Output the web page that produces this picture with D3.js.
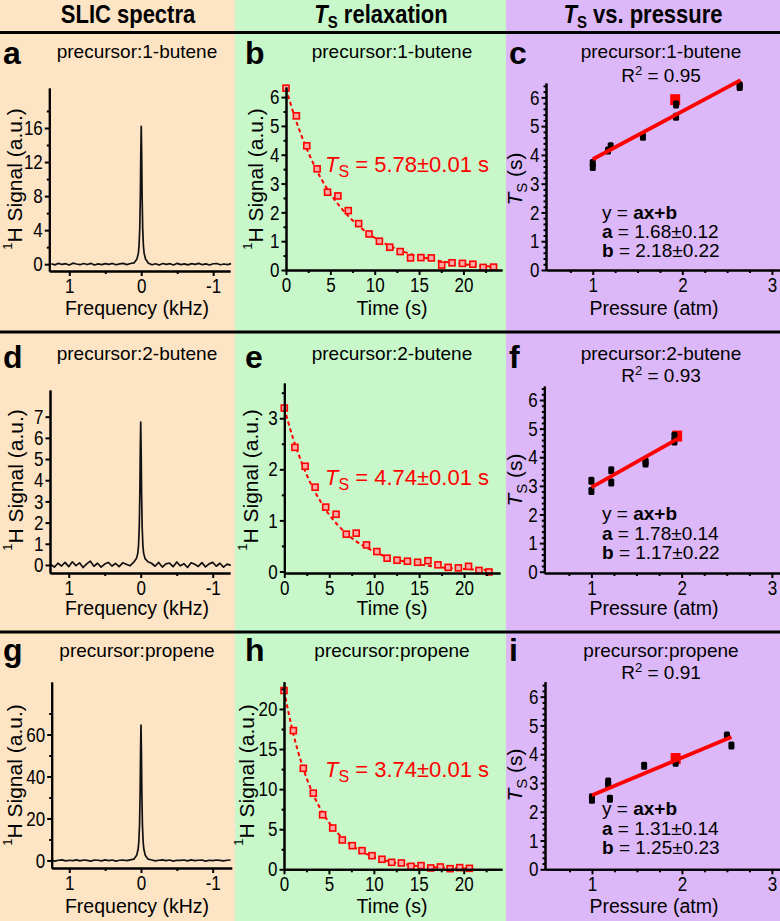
<!DOCTYPE html>
<html>
<head>
<meta charset="utf-8">
<script src="https://cdn.jsdelivr.net/npm/d3@7"></script>
<style>
  body { margin: 0; background: #fff; }
  svg text { font-family: "Liberation Sans", Arial, Helvetica, sans-serif; fill: #000; }
</style>
</head>
<body>
<svg id="fig" width="780" height="921"></svg>
<script>
// ---------- data ----------
const headers = ['SLIC spectra', 'relaxation', 'vs. pressure'];
const precursors = ['precursor:1-butene', 'precursor:2-butene', 'precursor:propene'];
const letters = ['a', 'b', 'c', 'd', 'e', 'f', 'g', 'h', 'i'];

// SLIC spectra (kHz, a.u.)
const specFreq = [1.25,1.2,1.15,1.1,1.05,1,0.95,0.9,0.85,0.8,0.75,0.7,0.65,0.6,0.55,0.5,0.45,0.4,0.35,0.3,0.25,0.2,0.15,0.1,
  0.06,0.04,0.03,0.02,0.012,0.006,0,-0.006,-0.012,-0.02,-0.03,-0.04,-0.06,
  -0.1,-0.15,-0.2,-0.25,-0.3,-0.35,-0.4,-0.45,-0.5,-0.55,-0.6,-0.65,-0.7,-0.75,-0.8,-0.85,-0.9,-0.95,-1,-1.05,-1.1,-1.15,-1.2,-1.25];
const specA = [0.05,-0.08,0.1,-0.03,0.06,-0.1,0.12,0.02,-0.06,0.08,-0.04,0.1,-0.09,0.03,-0.05,0.07,-0.02,0.09,-0.07,0.04,0.1,-0.05,0.08,0.15,
  0.6,1.3,2.2,4.3,8.1,13.0,16.2,13.0,8.1,4.3,2.2,1.3,0.6,
  0.12,-0.06,0.05,-0.1,0.08,-0.03,0.06,-0.09,0.1,-0.05,0.03,-0.08,0.07,-0.02,0.09,-0.06,0.04,-0.1,0.05,0.08,-0.07,0.02,-0.05,0.06];
const specD = [0.02,-0.1,0.08,-0.05,0.12,-0.08,0.15,-0.03,0.1,-0.12,0.05,0.18,-0.06,0.08,-0.1,0.04,0.12,-0.05,0.07,-0.08,0.1,0.03,-0.04,0.12,
  0.3,0.56,0.93,1.8,3.4,5.4,6.75,5.4,3.4,1.8,0.93,0.56,0.3,
  0.15,0.08,-0.06,0.12,-0.1,0.05,0.09,-0.08,0.14,-0.04,0.06,-0.12,0.1,0.03,-0.07,0.11,-0.09,0.05,0.12,-0.06,0.08,-0.1,0.04,-0.02];
const specG = [0.2,-0.3,0.1,0.3,-0.2,0.1,-0.1,0.3,-0.2,0.2,0,-0.3,0.2,0.1,-0.2,0.3,-0.1,0.2,-0.3,0.1,0.2,-0.1,0.3,0.6,
  2.5,5.3,8.9,17,32,51.6,64.5,51.6,32,17,8.9,5.3,2.5,
  0.6,0.2,-0.2,0.1,0.3,-0.1,0.2,-0.3,0.1,0,0.2,-0.2,0.3,-0.1,0.1,0.2,-0.3,0.1,-0.1,0.2,0,-0.2,0.1,0.2];

// Ts relaxation (s, a.u.)
const timeB = [0,1.17,2.34,3.51,4.68,5.85,7.02,8.19,9.36,10.53,11.7,12.87,14.04,15.21,16.38,17.55,18.72,19.89,21.06,22.23,23.4];
const sigB = [6.31,5.35,4.31,3.51,2.7,2.57,2.06,1.61,1.25,1.0,0.79,0.64,0.42,0.43,0.42,0.17,0.25,0.23,0.2,0.09,0.1];
const fitTimeB = [0,1,2,3,4,5,6,7,8,9,10,11,12,13,14,15,16,17,18,19,20,21,22,23];
const fitB = [6.3,5.3,4.46,3.75,3.15,2.65,2.23,1.88,1.58,1.33,1.12,0.94,0.79,0.66,0.56,0.47,0.4,0.33,0.28,0.24,0.2,0.17,0.14,0.12];

const timeE = [0,1.18,2.32,3.43,4.61,5.76,6.9,8.0,9.15,10.3,11.44,12.55,13.7,14.83,15.98,17.1,18.23,19.37,20.5,21.66,22.77];
const sigE = [3.2,2.43,2.06,1.65,1.26,1.12,0.73,0.75,0.52,0.39,0.26,0.22,0.2,0.18,0.21,0.13,0.08,0.07,0.1,0.02,-0.01];
const fitTimeE = [0,1,2,3,4,5,6,7,8,9,10,11,12,13,14,15,16,17,18,19,20,21,22,23];
const fitE = [3.2,2.59,2.1,1.7,1.38,1.11,0.9,0.73,0.59,0.48,0.39,0.31,0.25,0.21,0.17,0.14,0.11,0.09,0.07,0.06,0.05,0.04,0.03,0.03];

const timeH = [0,1.04,2.15,3.26,4.3,5.42,6.49,7.6,8.68,9.79,10.9,11.98,13.06,14.14,15.25,16.33,17.4,18.48,19.55,20.63];
const sigH = [22.3,17.3,12.6,9.5,6.8,5.15,3.66,2.95,2.33,1.7,1.25,0.87,0.79,0.37,0.46,0.17,0.29,0.08,0.21,0.12];
const fitTimeH = [0,1,2,3,4,5,6,7,8,9,10,11,12,13,14,15,16,17,18,19,20,21];
const fitH = [22.3,17.07,13.06,10.0,7.65,5.86,4.48,3.43,2.63,2.01,1.54,1.18,0.9,0.69,0.53,0.4,0.31,0.24,0.18,0.14,0.11,0.08];
const tsLabels = ['5.78±0.01 s', '4.74±0.01 s', '3.74±0.01 s'];

// Ts vs pressure (atm, s)
const pressC = [1,1,1.17,1.2,1.56,1.93,1.93,2.64,2.64];
const tsC = [3.58,3.72,4.15,4.3,4.63,5.33,5.75,6.36,6.42];
const redC = [1.92, 5.92];
const fitXC = [1.0, 2.65], fitYC = [3.85, 6.6];

const pressF = [1,1,1.22,1.22,1.6,1.6,1.92,1.92];
const tsF = [3.18,2.82,3.55,3.12,3.85,3.78,4.75,4.55];
const redF = [1.95, 4.74];
const fitXF = [1.0, 1.96], fitYF = [2.95, 4.65];

const pressI = [1,1,1.18,1.18,1.2,1.58,1.93,2.5,2.55];
const tsI = [2.5,2.42,3.05,2.95,2.45,3.6,3.7,4.65,4.3];
const redI = [1.93, 3.85];
const fitXI = [1.0, 2.55], fitYI = [2.57, 4.6];

const r2Labels = ['0.95', '0.93', '0.91'];
const slopeLabels = ['1.68±0.12', '1.78±0.14', '1.31±0.14'];
const interLabels = ['2.18±0.22', '1.17±0.22', '1.25±0.23'];

// tick values
const freqMajor = [1, 0, -1], freqMinor = [0.5, -0.5];
const timeMajor = [0, 5, 10, 15, 20], timeMinor = [2.5, 7.5, 12.5, 17.5, 22.5];
const pressMajor = [1, 2, 3], pressMinor = [0.75, 1.25, 1.5, 1.75, 2.25, 2.5, 2.75];
const tsMajor = [0, 1, 2, 3, 4, 5, 6];

// ---------- drawing ----------
const svg = d3.select('#fig');
const RED = '#ff0000';
const TICK_STRETCH = 1.22;   // tick numbers are tall and narrow in the figure

svg.append('rect').attr('x', 0).attr('y', 0).attr('width', 235).attr('height', 921).attr('fill', '#fde4c4');
svg.append('rect').attr('x', 235).attr('y', 0).attr('width', 271).attr('height', 921).attr('fill', '#c8f8ca');
svg.append('rect').attr('x', 506).attr('y', 0).attr('width', 274).attr('height', 921).attr('fill', '#dcb8f9');

[32.5, 332, 632].forEach(y => {
  svg.append('line').attr('x1', 0).attr('x2', 780).attr('y1', y).attr('y2', y)
    .attr('stroke', '#000').attr('stroke-width', 3);
});

function stretchY(sel, k) {
  sel.each(function () {
    const y = +this.getAttribute('y') || 0;
    d3.select(this).attr('transform', `translate(0,${y * (1 - k)}) scale(1,${k})`);
  });
}

function drawAxes(g, xs, ys, xMajor, xMinor, yMajor, yMinor) {
  const bottom = ys.range()[0];
  const left = xs.range()[0];
  const fmt = d => String(d);
  g.append('g').attr('class', 'ax').attr('transform', `translate(0,${bottom})`)
    .call(d3.axisBottom(xs).tickValues(xMinor).tickSize(3).tickSizeOuter(0).tickFormat(''));
  g.append('g').attr('class', 'ax').attr('transform', `translate(0,${bottom})`)
    .call(d3.axisBottom(xs).tickValues(xMajor).tickSize(5).tickSizeOuter(0).tickPadding(2).tickFormat(fmt));
  g.append('g').attr('class', 'ax').attr('transform', `translate(${left},0)`)
    .call(d3.axisLeft(ys).tickValues(yMinor).tickSize(2.5).tickSizeOuter(0).tickFormat(''));
  g.append('g').attr('class', 'ax').attr('transform', `translate(${left},0)`)
    .call(d3.axisLeft(ys).tickValues(yMajor).tickSize(4.5).tickSizeOuter(0).tickPadding(2).tickFormat(fmt));
  g.selectAll('.ax').attr('font-size', 17).attr('font-family', null);
  g.selectAll('.ax path, .ax line').attr('stroke', '#000').attr('stroke-width', 2);
  stretchY(g.selectAll('.ax text').attr('fill', '#000'), TICK_STRETCH);
}

function spectrum(box, sig, yDom, yMajor, yMinor, xDom) {
  const g = svg.append('g');
  const xs = d3.scaleLinear().domain(xDom).range([box.x0, box.x1]);
  const ys = d3.scaleLinear().domain(yDom).range([box.y1, box.y0]);
  const line = d3.line().x((d, i) => xs(specFreq[i])).y(d => ys(d));
  g.append('path').datum(sig).attr('d', line).attr('fill', 'none')
    .attr('stroke', '#111').attr('stroke-width', 1.7).attr('stroke-linejoin', 'round');
  drawAxes(g, xs, ys, freqMajor, freqMinor, yMajor, yMinor);
}

function relax(box, t, v, ft, fv, xDom, yDom, yMajor, yMinor) {
  const g = svg.append('g');
  const xs = d3.scaleLinear().domain(xDom).range([box.x0, box.x1]);
  const ys = d3.scaleLinear().domain(yDom).range([box.y1, box.y0]);
  const line = d3.line().curve(d3.curveMonotoneX).x((d, i) => xs(ft[i])).y(d => ys(d));
  g.append('path').datum(fv).attr('d', line).attr('fill', 'none')
    .attr('stroke', RED).attr('stroke-width', 2).attr('stroke-dasharray', '4,3');
  g.selectAll('rect.pt').data(v).enter().append('rect')
    .attr('x', (d, i) => xs(t[i]) - 3).attr('y', d => ys(d) - 3)
    .attr('width', 6).attr('height', 6)
    .attr('fill', '#ffa8a8').attr('stroke', RED).attr('stroke-width', 1.6);
  drawAxes(g, xs, ys, timeMajor, timeMinor, yMajor, yMinor);
}

function pressure(box, px, py, red, fx, fy, yDom) {
  const g = svg.append('g');
  const xs = d3.scaleLinear().domain([0.478, 3.09]).range([box.x0, box.x1]);
  const ys = d3.scaleLinear().domain(yDom).range([box.y1, box.y0]);
  const minor = d3.range(0.2, 6.5, 0.2).filter(v => Math.abs(v - Math.round(v)) > 0.05);
  g.append('rect').attr('x', xs(red[0]) - 5).attr('y', ys(red[1]) - 5.5)
    .attr('width', 10).attr('height', 11).attr('fill', RED);
  g.selectAll('rect.pt').data(py).enter().append('rect')
    .attr('x', (d, i) => xs(px[i]) - 3).attr('y', d => ys(d) - 4)
    .attr('width', 6).attr('height', 8).attr('rx', 1.5).attr('fill', '#000');
  g.append('path').datum(fy)
    .attr('d', d3.line().x((d, i) => xs(fx[i])).y(d => ys(d)))
    .attr('stroke', RED).attr('stroke-width', 3.8).attr('fill', 'none');
  drawAxes(g, xs, ys, pressMajor, pressMinor, tsMajor, minor);
}

// row 1
spectrum({x0: 49.3, x1: 230, y0: 88, y1: 271}, specA, [-0.8, 20.7], [0, 4, 8, 12, 16], [2, 6, 10, 14, 18], [1.278, -1.234]);
relax({x0: 286, x1: 502, y0: 87, y1: 270}, timeB, sigB, fitTimeB, fitB, [0, 24.35], [0, 6.35], [0, 1, 2, 3, 4, 5, 6], [0.5, 1.5, 2.5, 3.5, 4.5, 5.5]);
pressure({x0: 546, x1: 780, y0: 83, y1: 270}, pressC, tsC, redC, fitXC, fitYC, [0, 6.5]);
// row 2
spectrum({x0: 50, x1: 230, y0: 390, y1: 573}, specD, [-0.38, 8.26], [0, 1, 2, 3, 4, 5, 6, 7], [], [1.26, -1.24]);
relax({x0: 284.3, x1: 500, y0: 383, y1: 573}, timeE, sigE, fitTimeE, fitE, [0, 24.0], [-0.03, 3.69], [0, 1, 2, 3], [0.5, 1.5, 2.5, 3.5]);
pressure({x0: 544.3, x1: 780, y0: 386, y1: 573}, pressF, tsF, redF, fitXF, fitYF, [-0.045, 6.49]);
// row 3
spectrum({x0: 51.7, x1: 231.7, y0: 682, y1: 868}, specG, [-3.6, 85], [0, 20, 40, 60], [10, 30, 50, 70], [1.245, -1.265]);
relax({x0: 284, x1: 502, y0: 681.7, y1: 869.3}, timeH, sigH, fitTimeH, fitH, [0, 24.26], [0, 23.4], [0, 5, 10, 15, 20], [2.5, 7.5, 12.5, 17.5, 22.5]);
pressure({x0: 545, x1: 780, y0: 681.7, y1: 869.3}, pressI, tsI, redI, fitXI, fitYI, [0, 6.52]);

// ---------- text ----------
const txt = (x, y, s, size, anchor) => svg.append('text').attr('x', x).attr('y', y)
  .attr('font-size', size).attr('text-anchor', anchor || 'middle').text(s);

// headers (tall, like the figure)
const head = [txt(128, 23, headers[0], 22).attr('font-weight', 'bold')];
[[381, headers[1]], [643, headers[2]]].forEach(([x, s]) => {
  const t = svg.append('text').attr('x', x).attr('y', 23).attr('font-size', 22)
    .attr('font-weight', 'bold').attr('text-anchor', 'middle');
  t.append('tspan').attr('font-style', 'italic').text('T');
  t.append('tspan').attr('font-size', 15).attr('dy', 4).text('S');
  t.append('tspan').attr('dy', -4).text(' ' + s);
  head.push(t);
});
head.forEach(t => stretchY(t, 1.15));

// panel letters
const rowBase = [64, 368, 661];
const colX = [3, 245, 509];
letters.forEach((l, i) => {
  txt(colX[i % 3], rowBase[Math.floor(i / 3)], l, 32, 'start').attr('font-weight', 'bold');
});

// titles
const titleY = [57.5, 359.5, 656.5];
const titleX = [137, 392, 661];
precursors.forEach((p, r) => {
  titleX.forEach(x => txt(x, titleY[r], p, 19));
});

// R^2
const r2Y = [82, 382, 679];
r2Labels.forEach((v, r) => {
  const t = svg.append('text').attr('x', 661).attr('y', r2Y[r]).attr('font-size', 19).attr('text-anchor', 'middle');
  t.append('tspan').text('R');
  t.append('tspan').attr('font-size', 13).attr('dy', -7).text('2');
  t.append('tspan').attr('dy', 7).text(' = ' + v);
});

// x axis titles
const xTitleY = [315, 615, 913];
xTitleY.forEach(y => {
  txt(137, y, 'Frequency (kHz)', 19.5);
  txt(392, y, 'Time (s)', 19.5);
  txt(654, y, 'Pressure (atm)', 19.5);
});

// y axis titles
const plotMid = [179, 480, 775];
const sigLabelX = [[13.5, 254], [14, 249], [13.5, 245]];
plotMid.forEach((cy, r) => {
  sigLabelX[r].forEach(cx => {
    const t = svg.append('text').attr('transform', `translate(${cx},${cy}) rotate(-90)`)
      .attr('dy', '0.35em').attr('font-size', 21).attr('text-anchor', 'middle');
    t.append('tspan').attr('font-size', 13).attr('dy', '-0.15em').text('1');
    t.append('tspan').attr('dy', '0.5em').text('H Signal (a.u.)');
  });
  const t = svg.append('text').attr('transform', `translate(515,${cy}) rotate(-90)`)
    .attr('dy', '0.35em').attr('font-size', 21).attr('text-anchor', 'middle');
  t.append('tspan').attr('font-style', 'italic').text('T');
  t.append('tspan').attr('font-size', 15).attr('dy', 5).text('S');
  t.append('tspan').attr('dy', -5).text(' (s)');
});

// Ts annotations
const tsAnnY = [172, 485, 777];
tsLabels.forEach((s, r) => {
  const t = svg.append('text').attr('x', 325).attr('y', tsAnnY[r]).attr('font-size', 22)
    .attr('text-anchor', 'start').style('fill', RED);
  t.append('tspan').attr('font-style', 'italic').style('fill', RED).text('T');
  t.append('tspan').attr('font-size', 16).attr('dy', 5).style('fill', RED).text('S');
  t.append('tspan').attr('dy', -5).style('fill', RED).text(' = ' + s);
});

// fit equations
const eqY = [[219, 238, 257], [520, 540, 559], [815, 835, 854]];
eqY.forEach((ys, r) => {
  let t = svg.append('text').attr('x', 602).attr('y', ys[0]).attr('font-size', 19);
  t.append('tspan').text('y = ');
  t.append('tspan').attr('font-weight', 'bold').text('ax+b');
  t = svg.append('text').attr('x', 602).attr('y', ys[1]).attr('font-size', 19);
  t.append('tspan').attr('font-weight', 'bold').text('a');
  t.append('tspan').text(' = ' + slopeLabels[r]);
  t = svg.append('text').attr('x', 602).attr('y', ys[2]).attr('font-size', 19);
  t.append('tspan').attr('font-weight', 'bold').text('b');
  t.append('tspan').text(' = ' + interLabels[r]);
});
</script>
</body>
</html>
